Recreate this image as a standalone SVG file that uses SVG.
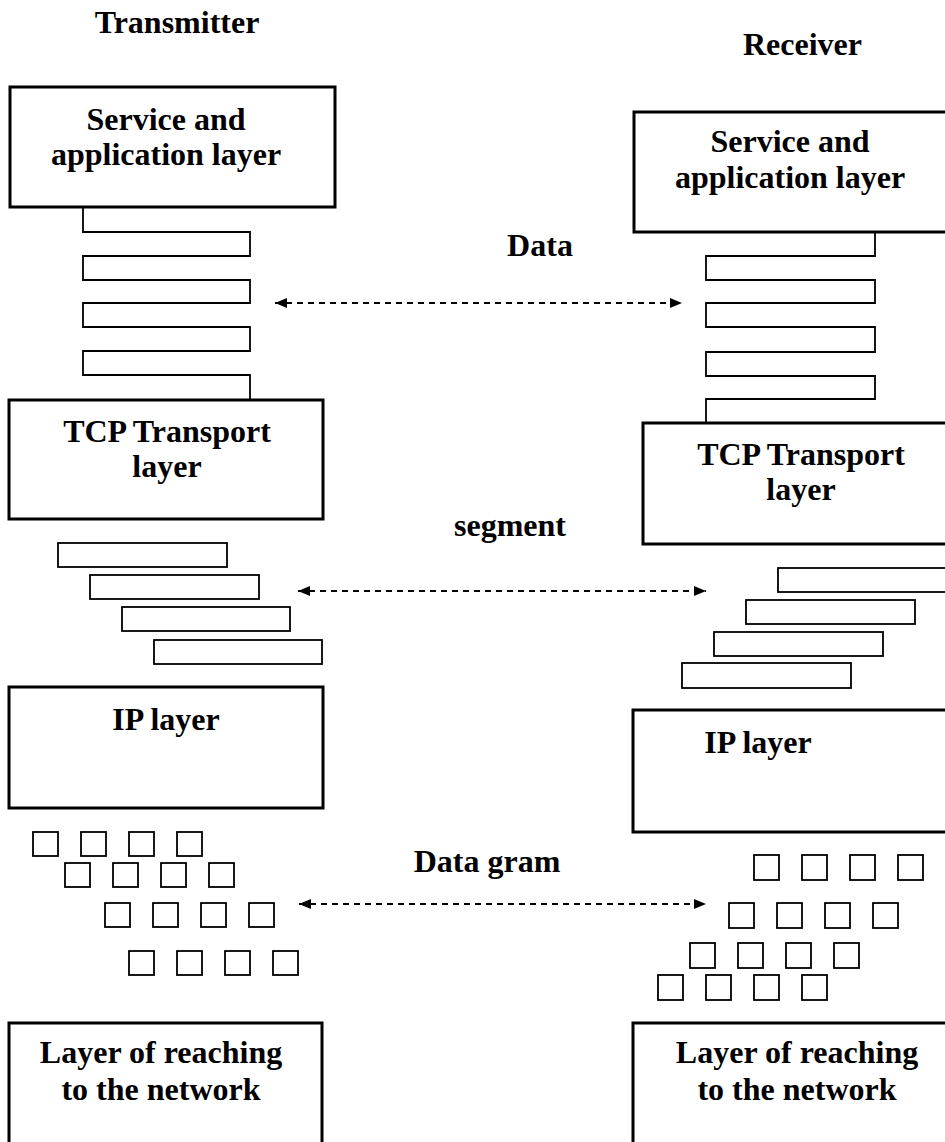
<svg xmlns="http://www.w3.org/2000/svg" width="945" height="1142" viewBox="0 0 945 1142">
  <style>
    .box { fill: #fff; stroke: #000; stroke-width: 3; }
    .thin { fill: none; stroke: #000; stroke-width: 1.8; }
    .pkt { fill: #fff; stroke: #000; stroke-width: 1.8; }
    .lbl { font-family: "Liberation Serif", "Times New Roman", serif; font-weight: bold; font-size: 32px; fill: #000; }
    .mid { text-anchor: middle; }
    .link { fill: none; stroke: #000; stroke-width: 2; stroke-dasharray: 6 5; marker-start: url(#head); marker-end: url(#head); }
  </style>
  <defs>
    <marker id="head" viewBox="0 0 12 10" refX="12" refY="5" markerWidth="12" markerHeight="10" markerUnits="userSpaceOnUse" orient="auto-start-reverse">
      <path d="M0,0 L12,5 L0,10 Z" fill="#000"/>
    </marker>
  </defs>
  <rect width="945" height="1142" fill="#fff"/>

  <!-- column titles -->
  <text class="lbl mid" x="177" y="33">Transmitter</text>
  <text class="lbl" x="743" y="55">Receiver</text>

  <!-- transmitter stack -->
  <g id="tx-app">
    <rect class="box" x="10" y="87" width="325" height="120"/>
    <text class="lbl mid" x="166" y="130">Service and</text>
    <text class="lbl mid" x="166" y="165">application layer</text>
  </g>
  <g id="tx-data">
    <path class="thin" d="M83,207 V232 H250 V256 H83 V280 H250 V303 H83 V327 H250 V351 H83 V375 H250 V399"/>
  </g>
  <g id="tx-tcp">
    <rect class="box" x="9" y="400" width="314" height="119"/>
    <text class="lbl mid" x="167" y="442">TCP Transport</text>
    <text class="lbl mid" x="167" y="477">layer</text>
  </g>
  <g id="tx-segments">
    <rect class="pkt" x="58" y="543" width="169" height="24"/>
    <rect class="pkt" x="90" y="575" width="169" height="24"/>
    <rect class="pkt" x="122" y="607" width="168" height="24"/>
    <rect class="pkt" x="154" y="640" width="168" height="24"/>
  </g>
  <g id="tx-ip">
    <rect class="box" x="9" y="687" width="314" height="121"/>
    <text class="lbl mid" x="166" y="730">IP layer</text>
  </g>
  <g id="tx-datagrams">
    <rect class="pkt" x="33" y="832" width="25" height="24"/>
    <rect class="pkt" x="81" y="832" width="25" height="24"/>
    <rect class="pkt" x="129" y="832" width="25" height="24"/>
    <rect class="pkt" x="177" y="832" width="25" height="24"/>
    <rect class="pkt" x="65" y="863" width="25" height="24"/>
    <rect class="pkt" x="113" y="863" width="25" height="24"/>
    <rect class="pkt" x="161" y="863" width="25" height="24"/>
    <rect class="pkt" x="209" y="863" width="25" height="24"/>
    <rect class="pkt" x="105" y="903" width="25" height="24"/>
    <rect class="pkt" x="153" y="903" width="25" height="24"/>
    <rect class="pkt" x="201" y="903" width="25" height="24"/>
    <rect class="pkt" x="249" y="903" width="25" height="24"/>
    <rect class="pkt" x="129" y="951" width="25" height="24"/>
    <rect class="pkt" x="177" y="951" width="25" height="24"/>
    <rect class="pkt" x="225" y="951" width="25" height="24"/>
    <rect class="pkt" x="273" y="951" width="25" height="24"/>
  </g>
  <g id="tx-net">
    <rect class="box" x="9" y="1023" width="313" height="130"/>
    <text class="lbl mid" x="161" y="1063">Layer of reaching</text>
    <text class="lbl mid" x="161" y="1100">to the network</text>
  </g>

  <!-- receiver stack -->
  <g id="rx-app">
    <rect class="box" x="634" y="112" width="320" height="120"/>
    <text class="lbl mid" x="790" y="152">Service and</text>
    <text class="lbl mid" x="790" y="188">application layer</text>
  </g>
  <g id="rx-data">
    <path class="thin" d="M875,232 V256 H706 V280 H875 V303 H706 V327 H875 V352 H706 V376 H875 V399 H706 V423"/>
  </g>
  <g id="rx-tcp">
    <rect class="box" x="643" y="423" width="311" height="121"/>
    <text class="lbl mid" x="801" y="465">TCP Transport</text>
    <text class="lbl mid" x="801" y="500">layer</text>
  </g>
  <g id="rx-segments">
    <rect class="pkt" x="778" y="568" width="169" height="24"/>
    <rect class="pkt" x="746" y="600" width="169" height="24"/>
    <rect class="pkt" x="714" y="632" width="169" height="24"/>
    <rect class="pkt" x="682" y="663" width="169" height="25"/>
  </g>
  <g id="rx-ip">
    <rect class="box" x="633" y="710" width="321" height="122"/>
    <text class="lbl mid" x="758" y="753">IP layer</text>
  </g>
  <g id="rx-datagrams">
    <rect class="pkt" x="754" y="855" width="25" height="25"/>
    <rect class="pkt" x="802" y="855" width="25" height="25"/>
    <rect class="pkt" x="850" y="855" width="25" height="25"/>
    <rect class="pkt" x="898" y="855" width="25" height="25"/>
    <rect class="pkt" x="729" y="903" width="25" height="25"/>
    <rect class="pkt" x="777" y="903" width="25" height="25"/>
    <rect class="pkt" x="825" y="903" width="25" height="25"/>
    <rect class="pkt" x="873" y="903" width="25" height="25"/>
    <rect class="pkt" x="690" y="943" width="25" height="25"/>
    <rect class="pkt" x="738" y="943" width="25" height="25"/>
    <rect class="pkt" x="786" y="943" width="25" height="25"/>
    <rect class="pkt" x="834" y="943" width="25" height="25"/>
    <rect class="pkt" x="658" y="975" width="25" height="25"/>
    <rect class="pkt" x="706" y="975" width="25" height="25"/>
    <rect class="pkt" x="754" y="975" width="25" height="25"/>
    <rect class="pkt" x="802" y="975" width="25" height="25"/>
  </g>
  <g id="rx-net">
    <rect class="box" x="633" y="1023" width="321" height="130"/>
    <text class="lbl mid" x="797" y="1063">Layer of reaching</text>
    <text class="lbl mid" x="797" y="1100">to the network</text>
  </g>

  <!-- peer exchanges -->
  <g id="connectors">
    <line class="link" x1="275" y1="303" x2="682" y2="303"/>
    <line class="link" x1="298" y1="591" x2="706" y2="591"/>
    <line class="link" x1="299" y1="904" x2="706" y2="904"/>
  </g>
  <g id="link-labels">
    <text class="lbl mid" x="540" y="256">Data</text>
    <text class="lbl mid" x="510" y="536">segment</text>
    <text class="lbl mid" x="487" y="872">Data gram</text>
  </g>
</svg>
